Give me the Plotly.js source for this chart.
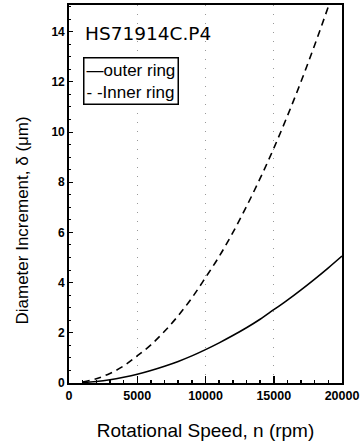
<!DOCTYPE html>
<html>
<head>
<meta charset="utf-8">
<script src="https://cdn.plot.ly/plotly-3.0.1.min.js"></script>
<style>html,body{margin:0;padding:0;background:#fff;}#chart{width:362px;height:444px;}</style>
</head>
<body>
<div id="chart"></div>
<script>
const speed = [1000, 2000, 3000, 4000, 5000, 6000, 7000, 8000, 9000, 10000, 11000, 12000, 13000, 14000, 15000, 16000, 17000, 18000, 19000, 20000];
const outerRing = [0.02, 0.06, 0.13, 0.23, 0.35, 0.5, 0.67, 0.86, 1.08, 1.33, 1.6, 1.89, 2.2, 2.54, 2.92, 3.3, 3.71, 4.14, 4.59, 5.06];
const innerRing = [0.04, 0.17, 0.38, 0.68, 1.08, 1.52, 2.06, 2.68, 3.39, 4.2, 5.04, 5.99, 7.03, 8.15, 9.35, 10.64, 12.01, 13.47, 15.0, 16.6];
const seriesNames = ["outer ring", "Inner ring"];
const chartTitle = "HS71914C.P4";
const xTitle = "Rotational Speed, n (rpm)";
const yTitle = "Diameter Increment, \u03b4 (\u03bcm)";
const xTicks = [0, 5000, 10000, 15000, 20000];
const xTickText = ["0", "5000", "10000", "15000", "20000"];
const yTicks = [0, 2, 4, 6, 8, 10, 12, 14];

const font = "Liberation Sans, Arial, sans-serif";
const traces = [
  {x: speed, y: outerRing, name: seriesNames[0], mode: "lines", type: "scatter",
   line: {color: "#000", width: 1.6, dash: "solid", shape: "spline"}},
  {x: speed, y: innerRing, name: seriesNames[1], mode: "lines", type: "scatter",
   line: {color: "#000", width: 1.6, dash: "7px,5px", shape: "spline"}}
];
const layout = {
  width: 362, height: 444,
  margin: {l: 69, r: 20, t: 5, b: 61},
  paper_bgcolor: "#fff", plot_bgcolor: "#fff",
  showlegend: false,
  xaxis: {range: [0, 20000], tickvals: xTicks, ticktext: xTickText,
          ticks: "inside", ticklen: 7, tickwidth: 1.5, tickcolor: "#000",
          minor: {dtick: 1000, ticks: "inside", ticklen: 3, tickcolor: "#000", showgrid: false},
          showline: true, linecolor: "#000", linewidth: 1.8, mirror: true,
          showgrid: true, gridcolor: "#999", gridwidth: 1, griddash: "1px,8px",
          zeroline: false, automargin: false,
          tickfont: {family: font, size: 12.5, color: "#000", weight: "bold"},
          title: {text: xTitle, font: {family: font, size: 19, color: "#000"}, standoff: 22}},
  yaxis: {range: [0, 15.06], tickvals: yTicks,
          ticks: "inside", ticklen: 4, tickwidth: 1, tickcolor: "#000",
          minor: {dtick: 0.5, ticks: "inside", ticklen: 2, tickcolor: "#000", showgrid: false},
          showline: true, linecolor: "#000", linewidth: 1.8, mirror: true,
          showgrid: false, zeroline: false, automargin: false,
          tickfont: {family: font, size: 12, color: "#000", weight: "bold"}},
  annotations: [
    {text: yTitle, xref: "paper", yref: "paper", x: -0.172, y: 0.43,
     xanchor: "center", yanchor: "middle", textangle: -90, showarrow: false,
     font: {family: font, size: 17, color: "#000"}},
    {text: chartTitle, xref: "paper", yref: "paper", x: 0.05, y: 0.925,
     xanchor: "left", yanchor: "middle", showarrow: false,
     font: {family: "DejaVu Sans, sans-serif", size: 18.5, color: "#000"}},
    {text: "\u2014" + seriesNames[0] + "<br>- -" + seriesNames[1], xref: "paper", yref: "paper",
     x: 0.05, y: 0.862, xanchor: "left", yanchor: "top", align: "left", showarrow: false,
     bordercolor: "#000", borderwidth: 1.5, borderpad: 2, bgcolor: "#fff",
     font: {family: font, size: 17, color: "#000"}}
  ]
};
Plotly.newPlot("chart", traces, layout, {staticPlot: true, displayModeBar: false});
</script>
</body>
</html>
